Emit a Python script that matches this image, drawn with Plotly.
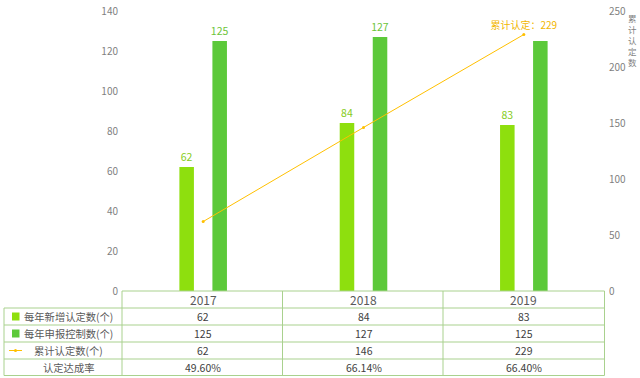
import plotly.graph_objects as go

years = ["2017", "2018", "2019"]
new_cert = [62, 84, 83]
declared = [125, 127, 125]
cumulative = [62, 146, 229]
rate = ["49.60%", "66.14%", "66.40%"]
row_names = ["每年新增认定数(个)", "每年申报控制数(个)", "累计认定数(个)", "认定达成率"]
right_title = "累计认定数"
line_label = "累计认定："

LIGHT = "#8EDF0E"
DARK = "#5CC93A"
GOLD = "#FFC000"
BORDER = "#A9D18E"
FONT = "Noto Sans CJK SC"

W, H = 640, 378
L, R, T, B = 123, 604, 11, 291


def px(p):
    return (p - L) / (R - L)


def py(p):
    return (B - p) / (B - T)


fig = go.Figure()
fig.add_trace(go.Bar(
    x=years, y=new_cert, name=row_names[0], marker_color=LIGHT,
    text=[str(v) for v in new_cert], textposition="outside", constraintext="none",
    textfont=dict(color="#86CC22", size=10.5, family=FONT), cliponaxis=False,
))
fig.add_trace(go.Bar(
    x=years, y=declared, name=row_names[1], marker_color=DARK,
    text=[str(v) for v in declared[:-1]] + [""], textposition="outside", constraintext="none",
    textfont=dict(color="#6CC43A", size=10.5, family=FONT), cliponaxis=False,
))
fig.add_trace(go.Scatter(
    x=years, y=cumulative, name=row_names[2], yaxis="y2", mode="lines+markers+text",
    line=dict(color=GOLD, width=1), marker=dict(color=GOLD, size=3),
    text=["", "", line_label + str(cumulative[-1])], textposition="top center",
    textfont=dict(color="#F2B600", size=10, family=FONT), cliponaxis=False,
))

shapes = []
annotations = []


def hline(y, x0, x1):
    shapes.append(dict(type="line", xref="paper", yref="paper", x0=px(x0), x1=px(x1),
                       y0=py(y), y1=py(y), line=dict(color=BORDER, width=1)))


def vline(x, y0, y1):
    shapes.append(dict(type="line", xref="paper", yref="paper", x0=px(x), x1=px(x),
                       y0=py(y0), y1=py(y1), line=dict(color=BORDER, width=1)))


def label(x, xref, y, text, size, color, yanchor="middle"):
    annotations.append(dict(x=x, xref=xref, y=y, yref="paper", text=text, showarrow=False,
                            xanchor="center", yanchor=yanchor,
                            font=dict(size=size, color=color, family=FONT)))


rows_y = [291, 308, 325, 342, 359, 375.5]
hline(291, 122, 604.5)
for yy in rows_y[1:]:
    hline(yy, 4, 604.5)
vline(122, 291, 375.5)
vline(282.5, 291, 375.5)
vline(443, 291, 375.5)
vline(604.5, 291, 375.5)
vline(4, 308, 375.5)

# header years (category index positions)
for i, yr in enumerate(years):
    label(i, "x", py(299.5), yr, 12, "#595959")

table_rows = [
    [str(v) for v in new_cert],
    [str(v) for v in declared],
    [str(v) for v in cumulative],
    rate,
]
for r, vals in enumerate(table_rows):
    cy = (rows_y[r + 1] + rows_y[r + 2]) / 2
    for i, v in enumerate(vals):
        label(i, "x", py(cy), v, 10.5, "#404040")
    label(px(68), "paper", py(cy), row_names[r], 10.3, "#595959")

# legend keys
for r, col in enumerate([LIGHT, DARK]):
    cy = (rows_y[r + 1] + rows_y[r + 2]) / 2
    shapes.append(dict(type="rect", xref="paper", yref="paper", x0=px(12), x1=px(19.5),
                       y0=py(cy - 4), y1=py(cy + 4), fillcolor=col, line=dict(width=0)))
cy = (rows_y[3] + rows_y[4]) / 2
shapes.append(dict(type="line", xref="paper", yref="paper", x0=px(9), x1=px(22),
                   y0=py(cy), y1=py(cy), line=dict(color=GOLD, width=1)))
shapes.append(dict(type="circle", xref="paper", yref="paper", x0=px(14), x1=px(17),
                   y0=py(cy - 1.5), y1=py(cy + 1.5), fillcolor=GOLD, line=dict(width=0)))

# right axis title stacked vertically
label(px(632), "paper", py(10), "<br>".join(right_title), 8.5, "#7F7F7F", yanchor="top")

fig.update_layout(
    template="none",
    width=W, height=H,
    margin=dict(l=L, r=W - R, t=T, b=H - B, pad=0),
    paper_bgcolor="white", plot_bgcolor="white",
    showlegend=False,
    barmode="group", bargap=0.588, bargroupgap=0.56,
    font=dict(family=FONT, color="#7F7F7F"),
    xaxis=dict(type="category", range=[-0.5, 2.5], showticklabels=False, showgrid=False,
               zeroline=False, showline=False, ticks="", automargin=False),
    yaxis=dict(range=[0, 140], dtick=20, showgrid=False, zeroline=False, showline=False,
               ticks="", tickfont=dict(size=10, color="#7F7F7F", family=FONT),
               ticklabelstandoff=4, automargin=False),
    yaxis2=dict(range=[0, 250], dtick=50, overlaying="y", side="right", showgrid=False,
                zeroline=False, showline=False, ticks="", automargin=False,
                tickfont=dict(size=10, color="#7F7F7F", family=FONT), ticklabelstandoff=4),
    shapes=shapes, annotations=annotations,
)

fig.write_html("out.html", config={"displayModeBar": False},
               post_script="document.body.style.margin='0';")
